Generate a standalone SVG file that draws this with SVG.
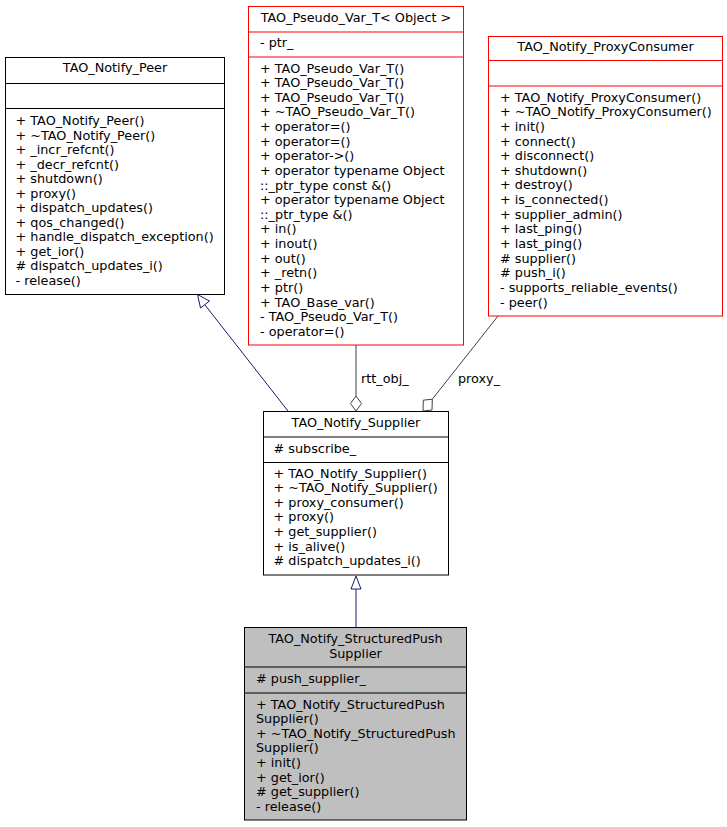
<svg xmlns="http://www.w3.org/2000/svg" width="727" height="827" viewBox="0 0 727 827">
<style>
text { font-family: "DejaVu Sans", "Liberation Sans", sans-serif; font-size: 12.8px; fill: #000; }
.t { text-anchor: middle; }
.box { fill: #fff; stroke: #000; stroke-width: 1; }
.red { fill: #fff; stroke: #ff0000; stroke-width: 1; }
.cur { fill: #bfbfbf; stroke: #000; stroke-width: 1; }
.sep { stroke: #000; stroke-width: 1; }
.rsep { stroke: #ff0000; stroke-width: 1; }
.inh { stroke: #191970; stroke-width: 1; fill: none; }
.use { stroke: #404040; stroke-width: 1; fill: none; }
.inhhead { fill: #fff; stroke: #191970; stroke-width: 1; }
.usehead { fill: #fff; stroke: #404040; stroke-width: 1; }
</style>
<rect width="727" height="827" fill="#fff"/>

<g id="connectors">
  <line class="inh" x1="288" y1="411" x2="205" y2="305"/>
  <polygon class="inhhead" points="197.5,294.5 200.5,308 209.5,301"/>
  <line class="use" x1="356" y1="345" x2="356" y2="396"/>
  <polygon class="usehead" points="356,396 361.5,403.5 356,411 350.5,403.5"/>
  <line class="use" x1="498" y1="316" x2="432.3" y2="399.2"/>
  <polygon class="usehead" points="432.3,399.2 432,410 423,411 423.3,400.2"/>
  <text x="361" y="383">rtt_obj_</text>
  <text x="458" y="383">proxy_</text>
  <line class="inh" x1="356" y1="627" x2="356" y2="589"/>
  <polygon class="inhhead" points="356,576 361,589 351,589"/>
</g>

<g id="TAO_Notify_Peer">
  <rect class="box" x="5.5" y="57.5" width="219" height="237"/>
  <line class="sep" x1="5.5" y1="83.5" x2="224.5" y2="83.5"/>
  <line class="sep" x1="5.5" y1="108.5" x2="224.5" y2="108.5"/>
  <text class="t" x="115" y="72">TAO_Notify_Peer</text>
  <text x="15.5" y="125">+ TAO_Notify_Peer()</text>
  <text x="15.5" y="139.5">+ ~TAO_Notify_Peer()</text>
  <text x="15.5" y="154">+ _incr_refcnt()</text>
  <text x="15.5" y="168.5">+ _decr_refcnt()</text>
  <text x="15.5" y="183">+ shutdown()</text>
  <text x="15.5" y="197.5">+ proxy()</text>
  <text x="15.5" y="212">+ dispatch_updates()</text>
  <text x="15.5" y="226.5">+ qos_changed()</text>
  <text x="15.5" y="241">+ handle_dispatch_exception()</text>
  <text x="15.5" y="255.5">+ get_ior()</text>
  <text x="15.5" y="270"># dispatch_updates_i()</text>
  <text x="15.5" y="284.5">- release()</text>
</g>

<g id="TAO_Pseudo_Var_T">
  <rect class="red" x="248.5" y="6.5" width="215" height="338.5"/>
  <line class="rsep" x1="248.5" y1="32" x2="463.5" y2="32"/>
  <line class="rsep" x1="248.5" y1="57" x2="463.5" y2="57"/>
  <text class="t" x="356" y="21.5">TAO_Pseudo_Var_T&lt; Object &gt;</text>
  <text x="260" y="46.5">- ptr_</text>
  <text x="260" y="72.5">+ TAO_Pseudo_Var_T()</text>
  <text x="260" y="87.1">+ TAO_Pseudo_Var_T()</text>
  <text x="260" y="101.7">+ TAO_Pseudo_Var_T()</text>
  <text x="260" y="116.4">+ ~TAO_Pseudo_Var_T()</text>
  <text x="260" y="131">+ operator=()</text>
  <text x="260" y="145.6">+ operator=()</text>
  <text x="260" y="160.3">+ operator-&gt;()</text>
  <text x="260" y="174.9">+ operator typename Object</text>
  <text x="260" y="189.5">::_ptr_type const &amp;()</text>
  <text x="260" y="204.2">+ operator typename Object</text>
  <text x="260" y="218.8">::_ptr_type &amp;()</text>
  <text x="260" y="233.4">+ in()</text>
  <text x="260" y="248.1">+ inout()</text>
  <text x="260" y="262.7">+ out()</text>
  <text x="260" y="277.3">+ _retn()</text>
  <text x="260" y="292">+ ptr()</text>
  <text x="260" y="306.6">+ TAO_Base_var()</text>
  <text x="260" y="321.2">- TAO_Pseudo_Var_T()</text>
  <text x="260" y="335.9">- operator=()</text>
</g>

<g id="TAO_Notify_ProxyConsumer">
  <rect class="red" x="488.5" y="36.5" width="234" height="279.5"/>
  <line class="rsep" x1="488.5" y1="60.5" x2="722.5" y2="60.5"/>
  <line class="rsep" x1="488.5" y1="86" x2="722.5" y2="86"/>
  <text class="t" x="605.5" y="50.5">TAO_Notify_ProxyConsumer</text>
  <text x="500" y="101.5">+ TAO_Notify_ProxyConsumer()</text>
  <text x="500" y="116.2">+ ~TAO_Notify_ProxyConsumer()</text>
  <text x="500" y="130.8">+ init()</text>
  <text x="500" y="145.5">+ connect()</text>
  <text x="500" y="160.1">+ disconnect()</text>
  <text x="500" y="174.8">+ shutdown()</text>
  <text x="500" y="189.4">+ destroy()</text>
  <text x="500" y="204.1">+ is_connected()</text>
  <text x="500" y="218.7">+ supplier_admin()</text>
  <text x="500" y="233.4">+ last_ping()</text>
  <text x="500" y="248">+ last_ping()</text>
  <text x="500" y="262.7"># supplier()</text>
  <text x="500" y="277.3"># push_i()</text>
  <text x="500" y="292">- supports_reliable_events()</text>
  <text x="500" y="306.6">- peer()</text>
</g>

<g id="TAO_Notify_Supplier">
  <rect class="box" x="263.5" y="411.5" width="185" height="163.5"/>
  <line class="sep" x1="263.5" y1="437" x2="448.5" y2="437"/>
  <line class="sep" x1="263.5" y1="462.5" x2="448.5" y2="462.5"/>
  <text class="t" x="356" y="427">TAO_Notify_Supplier</text>
  <text x="273.5" y="453"># subscribe_</text>
  <text x="273.5" y="477.5">+ TAO_Notify_Supplier()</text>
  <text x="273.5" y="492.1">+ ~TAO_Notify_Supplier()</text>
  <text x="273.5" y="506.7">+ proxy_consumer()</text>
  <text x="273.5" y="521.3">+ proxy()</text>
  <text x="273.5" y="535.9">+ get_supplier()</text>
  <text x="273.5" y="550.5">+ is_alive()</text>
  <text x="273.5" y="565.1"># dispatch_updates_i()</text>
</g>

<g id="TAO_Notify_StructuredPushSupplier">
  <rect class="cur" x="244.5" y="627.5" width="222" height="192.5"/>
  <line class="sep" x1="244.5" y1="667" x2="466.5" y2="667"/>
  <line class="sep" x1="244.5" y1="693" x2="466.5" y2="693"/>
  <text class="t" x="355.5" y="643">TAO_Notify_StructuredPush</text>
  <text class="t" x="355.5" y="657.5">Supplier</text>
  <text x="256" y="683"># push_supplier_</text>
  <text x="256" y="708.5">+ TAO_Notify_StructuredPush</text>
  <text x="256" y="723.1">Supplier()</text>
  <text x="256" y="737.7">+ ~TAO_Notify_StructuredPush</text>
  <text x="256" y="752.3">Supplier()</text>
  <text x="256" y="766.9">+ init()</text>
  <text x="256" y="781.5">+ get_ior()</text>
  <text x="256" y="796.1"># get_supplier()</text>
  <text x="256" y="810.7">- release()</text>
</g>
</svg>
